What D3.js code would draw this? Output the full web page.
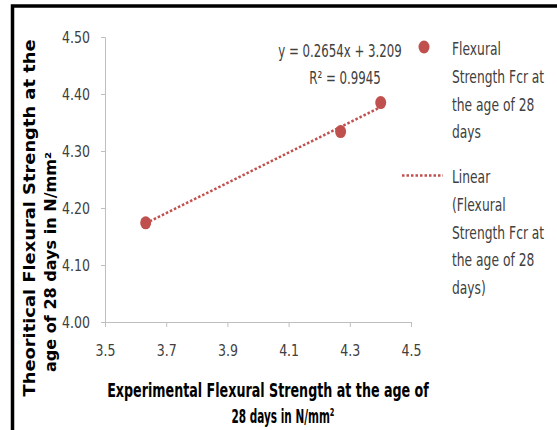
<!DOCTYPE html>
<html>
<head>
<meta charset="utf-8">
<script src="https://cdn.jsdelivr.net/npm/d3@7"></script>
<style>
  body { margin: 0; background: #fff; }
  svg { display: block; }
  .tick text { font-family: "Liberation Sans Narrow", "DejaVu Sans Condensed", Arial, sans-serif; font-size: 15px; fill: #404040; }
  .narrow { font-family: "Liberation Sans Narrow", "DejaVu Sans Condensed", Arial, sans-serif; }
</style>
</head>
<body>
<div id="chart"></div>
<script>
// data
var expStrength = [3.633, 4.270, 4.401]
var theoStrength = [4.174, 4.334, 4.385]
var trendCoef = [0.2654, 3.209]   // slope, intercept
var xTicks = [3.5, 3.7, 3.9, 4.1, 4.3, 4.5]
var yTicks = [4.00, 4.10, 4.20, 4.30, 4.40, 4.50]
var legendSeries = ["Flexural", "Strength Fcr at", "the age of 28", "days"]
var legendTrend = ["Linear", "(Flexural", "Strength Fcr at", "the age of 28", "days)"]

var width = 557, height = 430
var red = "#c0504d"

var svg = d3.select("#chart").append("svg")
    .attr("width", width)
    .attr("height", height)

// frame (only top and left edges show)
svg.append("path")
    .attr("d", "M12.5,430 L12.5,6 L557,6")
    .attr("fill", "none")
    .attr("stroke", "#000")
    .attr("stroke-width", 3.5)

var x = d3.scaleLinear().domain([3.5, 4.5]).range([105, 411])
var y = d3.scaleLinear().domain([4.0, 4.5]).range([322, 37])

// axes
var xAxis = svg.append("g")
    .attr("transform", "translate(0,322)")
    .call(d3.axisBottom(x).tickValues(xTicks).tickFormat(d3.format(".1f")).tickSizeOuter(0).tickSize(5).tickPadding(18))
var yAxis = svg.append("g")
    .attr("transform", "translate(105,0)")
    .call(d3.axisLeft(y).tickValues(yTicks).tickFormat(d3.format(".2f")).tickSizeOuter(0).tickSize(4).tickPadding(11))

svg.selectAll(".domain, .tick line").attr("stroke", "#bfbfbf")
yAxis.selectAll(".tick text").attr("dy", "0.35em")
svg.selectAll(".tick text").each(function(){
  var t = d3.select(this)
  t.attr("textLength", this.getComputedTextLength() * 0.93).attr("lengthAdjust", "spacingAndGlyphs")
})

// trend line over data range
var xMin = d3.min(expStrength), xMax = d3.max(expStrength)
var trendPts = [xMin, xMax].map(function(v){ return [v, trendCoef[0]*v + trendCoef[1]] })
svg.append("line")
    .attr("x1", x(trendPts[0][0]))
    .attr("y1", y(trendPts[0][1]))
    .attr("x2", x(trendPts[1][0]))
    .attr("y2", y(trendPts[1][1]))
    .attr("stroke", red)
    .attr("stroke-width", 2.5)
    .attr("stroke-dasharray", "2.5,2")

// points
svg.selectAll("ellipse.pt")
    .data(d3.zip(expStrength, theoStrength))
  .enter().append("ellipse")
    .attr("class", "pt")
    .attr("cx", d => x(d[0]))
    .attr("cy", d => y(d[1]))
    .attr("rx", 5.5)
    .attr("ry", 6.5)
    .attr("fill", red)

// the original picture is stretched: tall, narrow glyphs
// k = horizontal squeeze, or w = wanted width
function addLine(px, py, s, size, anchor, k, bold, w){
  var g = svg.append("g")
  var t = g.append("text")
      .attr("class", "narrow")
      .attr("font-size", size)
      .attr("text-anchor", anchor)
      .attr("font-weight", bold ? "bold" : null)
      .attr("fill", bold ? "#000" : "#404040")
      .text(s)
  if (w) k = w / t.node().getComputedTextLength()
  g.attr("transform", "translate(" + px + "," + py + ") scale(" + k + ",1)")
  return g
}

// equation label
addLine(340, 57, "y = " + trendCoef[0] + "x + " + trendCoef[1], 17, "middle", 0.77)
addLine(345, 84, "R² = 0.9945", 17, "middle", 0.77)

// legend
svg.append("ellipse")
    .attr("cx", 424).attr("cy", 47)
    .attr("rx", 5.5).attr("ry", 6.5)
    .attr("fill", red)
svg.append("line")
    .attr("x1", 402).attr("x2", 443)
    .attr("y1", 175.5).attr("y2", 175.5)
    .attr("stroke", red)
    .attr("stroke-width", 2.5)
    .attr("stroke-dasharray", "2.5,2")

legendSeries.forEach(function(s, i){ addLine(452, 55 + i*27.8, s, 18, "start", 0.76) })
legendTrend.forEach(function(s, i){ addLine(452, 183 + i*27.8, s, 18, "start", 0.76) })

// axis titles
addLine(268, 397, "Experimental Flexural Strength at the age of", 20, "middle", 1, true, 322)
addLine(283, 423, "28 days in N/mm²", 20, "middle", 1, true, 103)

function yLine(s, px, cy, len){
  svg.append("text")
      .attr("transform", "translate(" + px + "," + cy + ") rotate(-90)")
      .attr("text-anchor", "middle")
      .attr("font-family", "DejaVu Sans, Verdana, sans-serif")
      .attr("font-size", 15)
      .attr("font-weight", "bold")
      .attr("fill", "#000")
      .attr("textLength", len)
      .attr("lengthAdjust", "spacingAndGlyphs")
      .text(s)
}
yLine("Theoritical Flexural Strength at the", 35, 218, 357)
yLine("age of 28 days in N/mm²", 56, 262, 220)
</script>
</body>
</html>
